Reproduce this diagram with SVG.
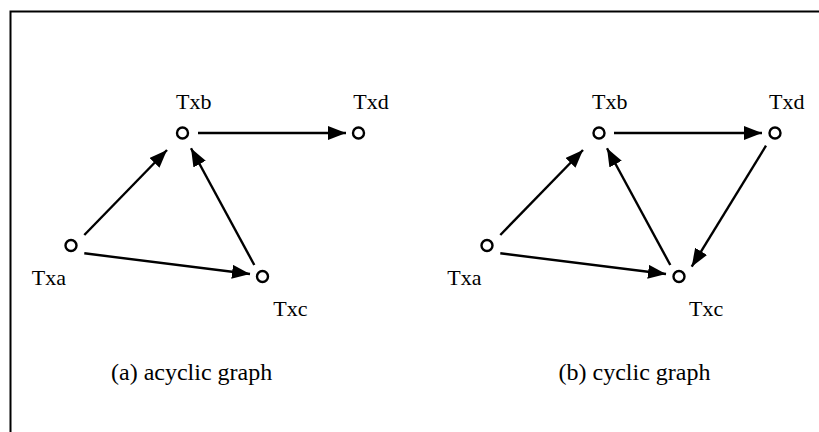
<svg xmlns="http://www.w3.org/2000/svg" width="819" height="432" viewBox="0 0 819 432">
<style>
.node{fill:#fff;stroke:#000;stroke-width:2.4}
.lbl{font-family:"Liberation Serif","Times New Roman",serif;font-size:22px;fill:#000}
.cap{font-family:"Liberation Serif","Times New Roman",serif;font-size:24px;fill:#000}
.edge{stroke:#000;stroke-width:2.4;fill:none;marker-end:url(#ah)}
</style>
<defs>
<marker id="ah" markerUnits="userSpaceOnUse" markerWidth="20" markerHeight="16" refX="18" refY="7" orient="auto">
<path d="M0,0 L18,7 L0,14 z" fill="#000"/>
</marker>
</defs>
<rect x="10.5" y="11.5" width="830" height="440" fill="#fff" stroke="#000" stroke-width="2"/>
<g id="connectors">
<line class="edge" x1="198" y1="133" x2="346" y2="133"/>
<line class="edge" x1="84.3" y1="235" x2="167" y2="150"/>
<line class="edge" x1="84.3" y1="253.3" x2="250" y2="274"/>
<line class="edge" x1="254.3" y1="265" x2="191" y2="148.3"/>
<line class="edge" x1="614" y1="133" x2="762" y2="133"/>
<line class="edge" x1="500.3" y1="235" x2="583" y2="150"/>
<line class="edge" x1="500.3" y1="253.3" x2="666" y2="274"/>
<line class="edge" x1="670.3" y1="265" x2="607" y2="148.3"/>
<line class="edge" x1="766" y1="145.7" x2="691.7" y2="266.7"/>
</g>
<g id="a-txa"><circle class="node" cx="71" cy="245.5" r="5.5"/><text class="lbl" x="31.7" y="285">Txa</text></g>
<g id="a-txb"><circle class="node" cx="182.5" cy="133" r="5.5"/><text class="lbl" x="176" y="108.5">Txb</text></g>
<g id="a-txc"><circle class="node" cx="262.5" cy="276.5" r="5.5"/><text class="lbl" x="273.3" y="316">Txc</text></g>
<g id="a-txd"><circle class="node" cx="358.5" cy="133" r="5.5"/><text class="lbl" x="353.3" y="108.5">Txd</text></g>
<g id="b-txa"><circle class="node" cx="487" cy="245.5" r="5.5"/><text class="lbl" x="447.2" y="285">Txa</text></g>
<g id="b-txb"><circle class="node" cx="599" cy="133" r="5.5"/><text class="lbl" x="592" y="108.5">Txb</text></g>
<g id="b-txc"><circle class="node" cx="679" cy="276.5" r="5.5"/><text class="lbl" x="689" y="316">Txc</text></g>
<g id="b-txd"><circle class="node" cx="775" cy="133" r="5.5"/><text class="lbl" x="769" y="108.5">Txd</text></g>
<text class="cap" x="111" y="380">(a) acyclic graph</text>
<text class="cap" x="558.5" y="380">(b) cyclic graph</text>
</svg>
